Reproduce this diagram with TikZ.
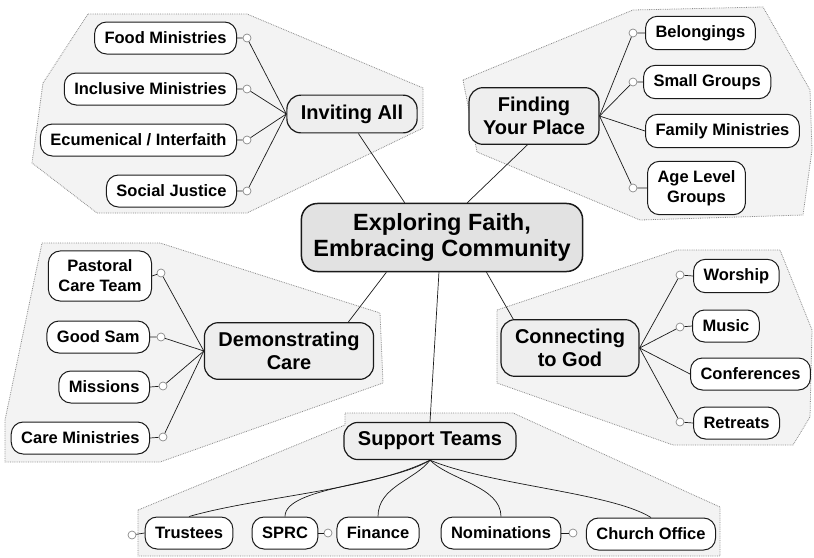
\documentclass[tikz,border=0pt]{standalone}
\usepackage{fontspec}
\setmainfont{Liberation Sans}
\usetikzlibrary{positioning, calc}
\definecolor{mmink}{HTML}{1A1A1A}
\definecolor{mmedge}{HTML}{8A8A8A}
\definecolor{mmgroup}{HTML}{F3F3F3}
\definecolor{mmcore}{HTML}{E2E2E2}
\definecolor{mmtopic}{HTML}{EEEEEE}

\begin{document}
\begin{tikzpicture}[x=1pt, y=-1pt,
    core/.style={draw=mmink, fill=mmcore, line width=1.5pt, rounded corners=16pt,
                 align=center, inner xsep=12pt, inner ysep=10pt,
                 font=\fontsize{23.5}{26}\selectfont\bfseries},
    topic/.style={draw=mmink, fill=mmtopic, line width=1.2pt, rounded corners=14pt,
                  align=center, inner xsep=14pt, inner ysep=9.5pt,
                  font=\fontsize{20}{23}\selectfont\bfseries},
    sub/.style={draw=mmink, fill=white, line width=1pt, rounded corners=12pt,
                align=center, inner xsep=10pt, inner ysep=9pt, minimum height=32pt,
                font=\fontsize{16.5}{20}\selectfont\bfseries},
    grp/.style={draw=mmedge, densely dotted, fill=mmgroup, line width=0.8pt},
    knob/.style={circle, draw=mmedge, fill=white, line width=0.7pt,
                 inner sep=0pt, minimum size=8pt},
    link/.style={draw=mmink, line width=0.7pt}]
  \useasboundingbox (0,0) rectangle (814,557);

  % group outlines
  \path[grp] (88,14) -- (247,14) -- (423,88) -- (423,128) -- (247,213)
             -- (97,213) -- (32,163) -- (43,83) -- cycle;
  \path[grp] (463,80) -- (633,10) -- (763,7) -- (810,90) -- (812,150)
             -- (803,215) -- (640,220) -- (477,152) -- cycle;
  \path[grp] (42,243) -- (160,243) -- (380,313) -- (383,383) -- (160,462)
             -- (5,462) -- (5,420) -- cycle;
  \path[grp] (497,310) -- (677,250) -- (780,250) -- (812,330) -- (810,417)
             -- (793,445) -- (673,445) -- (497,383) -- cycle;
  \path[grp] (138,510) -- (345,425) -- (345,413) -- (513,413) -- (720,507)
             -- (720,556) -- (138,556) -- cycle;

  % centre and main topics
  \node[core] (core) at (442,237.5) {Exploring Faith,\\Embracing Community};
  \node[topic] (inv) at (352,114) {Inviting All};
  \node[topic] (fyp) at (534,116) {Finding\\Your Place};
  \node[topic] (dem) at (289,351) {Demonstrating\\Care};
  \node[topic] (ctg) at (570,348) {Connecting\\to God};
  \node[topic] (st) at (430,441) {Support Teams};

  % inviting all
  \node[sub, anchor=east] (food) at (237,38) {Food Ministries};
  \node[sub, anchor=east] (incl) at (237,89) {Inclusive Ministries};
  \node[sub, anchor=east] (ecu) at (237,140) {Ecumenical / Interfaith};
  \node[sub, anchor=east] (soc) at (237,191) {Social Justice};
  \node[knob] (k1) at (247,38) {};
  \node[knob] (k2) at (247,89) {};
  \node[knob] (k3) at (247,140) {};
  \node[knob] (k4) at (247,191) {};

  % finding your place
  \node[sub, anchor=west] (bel) at (645,33) {Belongings};
  \node[sub, anchor=west] (sg) at (643,82) {Small Groups};
  \node[sub, anchor=west] (fam) at (645,131) {Family Ministries};
  \node[sub, anchor=west] (age) at (647,188) {Age Level\\Groups};
  \node[knob] (k5) at (633,33) {};
  \node[knob] (k6) at (633,82) {};
  \node[knob] (k7) at (633,188) {};

  % demonstrating care
  \node[sub, anchor=east] (past) at (152,276) {Pastoral\\Care Team};
  \node[sub, anchor=east] (gs) at (150,337) {Good Sam};
  \node[sub, anchor=east] (mis) at (150,387) {Missions};
  \node[sub, anchor=east] (care) at (150,438) {Care Ministries};
  \node[knob] (k8) at (161,273) {};
  \node[knob] (k9) at (161,337) {};
  \node[knob] (k10) at (163,386) {};
  \node[knob] (k11) at (163,437) {};

  % connecting to god
  \node[sub, anchor=west] (wor) at (693,276) {Worship};
  \node[sub, anchor=west] (mus) at (692,326) {Music};
  \node[sub, anchor=west] (conf) at (690,374) {Conferences};
  \node[sub, anchor=west] (ret) at (693,423) {Retreats};
  \node[knob] (k12) at (680,275) {};
  \node[knob] (k13) at (680,327) {};
  \node[knob] (k14) at (680,422) {};

  % support teams
  \node[sub] (tru) at (189,533) {Trustees};
  \node[sub] (sprc) at (285,533) {SPRC};
  \node[sub] (fin) at (378,533) {Finance};
  \node[sub] (nom) at (501,533) {Nominations};
  \node[sub] (cho) at (651,534) {Church Office};
  \node[knob] (k15) at (132,535) {};
  \node[knob] (k16) at (328,533) {};
  \node[knob] (k17) at (573,533) {};

  % connectors from the centre
  \draw[link] (core.137) -- (inv.288);
  \draw[link] (core.54) -- (fyp.257);
  \draw[link] (core.212) -- (dem.26);
  \draw[link] (core.322) -- (ctg.153);
  \draw[link] (core.265) -- (st.north);

  % branches
  \draw[link] (inv.west) -- (k1) (k1) -- (food.east);
  \draw[link] (inv.west) -- (k2) (k2) -- (incl.east);
  \draw[link] (inv.west) -- (k3) (k3) -- (ecu.east);
  \draw[link] (inv.west) -- (k4) (k4) -- (soc.east);

  \draw[link] (fyp.east) -- (k5) (k5) -- (bel.west);
  \draw[link] (fyp.east) -- (k6) (k6) -- (sg.west);
  \draw[link] (fyp.east) -- (fam.west);
  \draw[link] (fyp.east) -- (k7) (k7) -- (age.west);

  \draw[link] (dem.west) -- (k8) (k8) -- (past.east);
  \draw[link] (dem.west) -- (k9) (k9) -- (gs.east);
  \draw[link] (dem.west) -- (k10) (k10) -- (mis.east);
  \draw[link] (dem.west) -- (k11) (k11) -- (care.east);

  \draw[link] (ctg.east) -- (k12) (k12) -- (wor.west);
  \draw[link] (ctg.east) -- (k13) (k13) -- (mus.west);
  \draw[link] (ctg.east) -- (conf.west);
  \draw[link] (ctg.east) -- (k14) (k14) -- (ret.west);

  \draw[link] (st.south) .. controls +(-60,30) and +(70,-20) .. (tru.north);
  \draw[link] (st.south) .. controls +(-40,25) and +(0,-30) .. (sprc.north);
  \draw[link] (st.south) .. controls +(-15,20) and +(0,-30) .. (fin.north);
  \draw[link] (st.south) .. controls +(20,20) and +(0,-30) .. (nom.north);
  \draw[link] (st.south) .. controls +(60,25) and +(-40,-25) .. (cho.north);
  \draw[link] (k15) -- (tru.west);
  \draw[link] (sprc.east) -- (k16);
  \draw[link] (nom.east) -- (k17);
\end{tikzpicture}
\end{document}
